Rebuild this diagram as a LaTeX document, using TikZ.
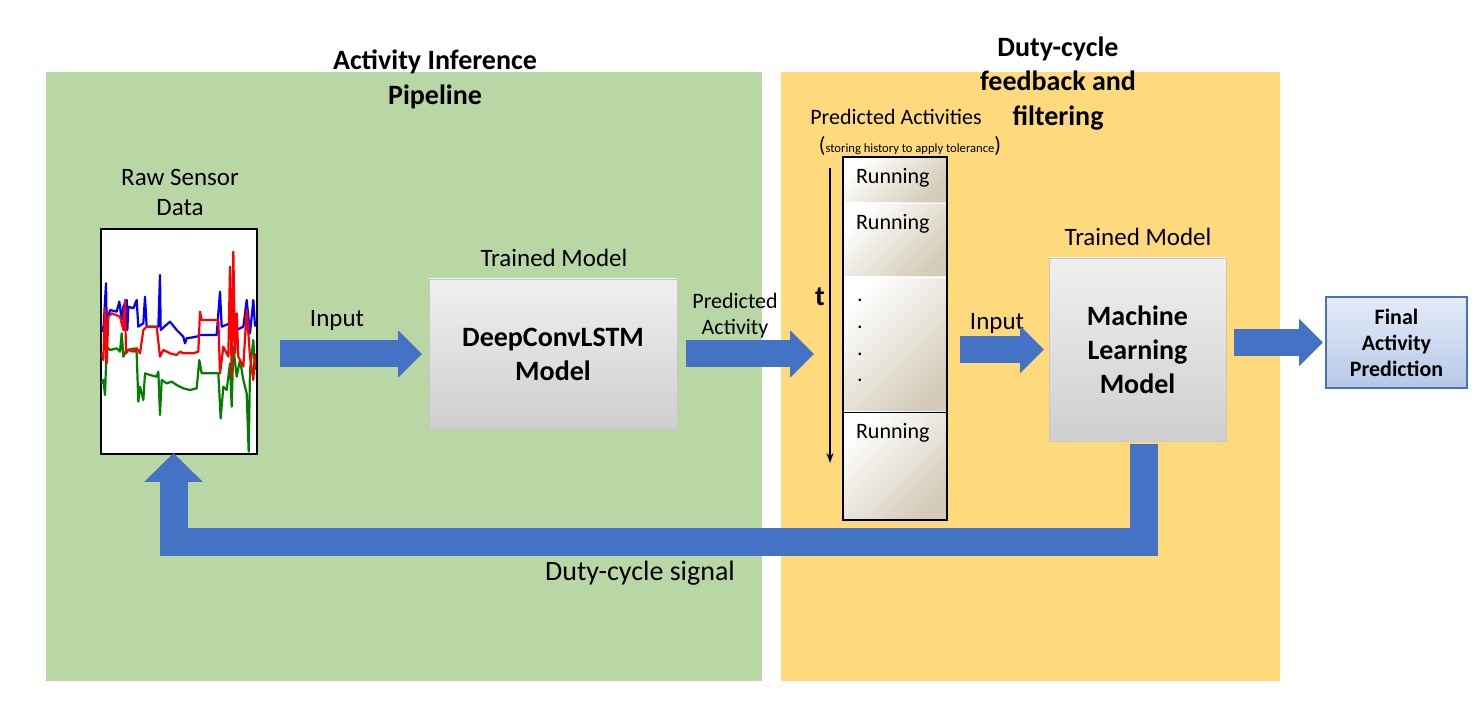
\documentclass[tikz,border=0pt]{standalone}
\usepackage{fontspec}
\setmainfont{Carlito}
\usetikzlibrary{arrows.meta,fit}
\definecolor{inferGreen}{RGB}{185,214,165}
\definecolor{dutyYellow}{RGB}{255,218,125}
\definecolor{arrowBlue}{RGB}{68,114,196}
\definecolor{metal}{RGB}{212,203,185}
\definecolor{finalTop}{RGB}{228,235,248}
\definecolor{finalBot}{RGB}{182,200,232}
\definecolor{plotGreen}{RGB}{0,128,0}
\newcommand{\fs}[2]{\fontsize{#1}{#2}\selectfont}

\begin{document}
\begin{tikzpicture}[x=0.5pt,y=-0.5pt,
	every node/.style={inner sep=0pt,outer sep=0pt},
	panel node/.style={rectangle,minimum height=304.5pt},
	model node/.style={rectangle,draw=gray!45,top color=gray!12,bottom color=gray!38,align=center,font=\bfseries\fs{14}{17}},
	cell node/.style={rectangle,draw=white,minimum width=52pt,top color=white,bottom color=metal,shading angle=45},
	label node/.style={align=center,font=\fs{12.5}{15}},
	small label/.style={align=center,font=\fs{11}{13}},
	flow arrow/.style={draw=arrowBlue,line width=13.5pt,-{Triangle[width=23pt,length=12pt]}},
	plot line/.style={line width=1.1pt,line join=round}]

	\path[use as bounding box,fill=white] (0,0) rectangle (1477,715);

	% panels
	\node[panel node,fill=inferGreen,minimum width=358pt] (inferPanel) at (404,376.5) {};
	\node[panel node,fill=dutyYellow,minimum width=249.5pt] (dutyPanel) at (1030.5,376.5) {};
	\node[font=\bfseries\fs{14}{17.5},align=center] (inferTitle) at (435,79.5) {Activity Inference\\Pipeline};
	\node[font=\bfseries\fs{14}{17.25},align=center] (dutyTitle) at (1058,83.5) {Duty-cycle\\feedback and\\filtering};

	% raw sensor data
	\node[label node] (rawTitle) at (180,192) {Raw Sensor\\Data};
	\node[draw=black,fill=white,line width=0.6pt,minimum width=78pt,minimum height=112.5pt] (sensor) at (179,341.5) {};
	\begin{scope}[shift={(90,220)},x=0.16667pt,y=-0.16667pt]
		\draw[plot line,blue] plot coordinates {(35,320) (40,335) (48,190) (50,310) (60,270) (80,275) (88,245) (95,300) (100,260) (110,240) (112,330) (115,260) (130,265) (140,240) (145,320) (160,310) (165,230) (170,320) (205,320) (210,165) (212,330) (240,305) (260,330) (280,350) (285,370) (290,355) (320,350) (330,345) (380,345) (390,215) (395,320) (420,310) (440,330) (460,320) (470,240) (480,340) (490,240) (495,320)};
		\draw[plot line,plotGreen] plot coordinates {(35,490) (40,480) (45,525) (50,380) (60,390) (80,385) (90,395) (95,340) (100,410) (110,390) (135,385) (140,400) (145,545) (150,500) (160,540) (165,460) (180,465) (200,470) (205,455) (210,585) (215,480) (230,490) (245,485) (260,495) (280,505) (300,510) (320,505) (328,420) (335,460) (385,460) (392,595) (400,500) (410,510) (420,430) (425,560) (430,380) (440,470) (450,420) (460,480) (470,520) (476,695) (480,450) (490,360) (495,450)};
		\draw[plot line,red] plot coordinates {(35,400) (40,420) (45,265) (50,430) (55,290) (65,280) (90,290) (100,330) (105,240) (108,400) (115,390) (130,395) (140,385) (150,400) (160,330) (170,320) (200,320) (210,410) (220,390) (240,400) (260,405) (270,395) (280,400) (310,400) (325,395) (330,275) (335,300) (385,300) (390,460) (400,380) (415,410) (420,140) (425,470) (430,95) (435,400) (440,280) (445,410) (460,440) (470,270) (480,410) (490,480) (495,400)};
	\end{scope}

	% first model
	\node[label node] (dclTitle) at (554,258) {Trained Model};
	\node[model node,minimum width=124pt,minimum height=75pt] (dcl) at (553,354) {DeepConvLSTM\\Model};
	\node[label node] (inputA) at (337,320) {Input};
	\node[small label] (predLabel) at (735,316) {Predicted\\Activity};

	% history of predictions
	\node[small label] (histTitle) at (896,117) {Predicted Activities};
	\node (histNote) at (910,146) {{\fs{11}{13}(}{\fs{6.3}{8}storing history to apply tolerance}{\fs{11}{13})}};
	\node[cell node,minimum height=23pt] (c1) at (895,180) {};
	\node[cell node,minimum height=37pt] (c2) at (895,240) {};
	\node[cell node,minimum height=67.5pt] (c3) at (895,344.5) {};
	\node[cell node,draw=black,minimum height=54pt] (c4) at (895,466) {};
	\node[draw=black,line width=0.6pt,fit=(c1)(c4),inner sep=0pt] (stack) {};
	\node[small label,anchor=west] (run1) at (856,178) {Running};
	\node[small label,anchor=west] (run2) at (856,224) {Running};
	\node[small label,anchor=west] (run4) at (856,433) {Running};
	\foreach \y [count=\i] in {300,327,354,380}
		\node[small label,anchor=base] (dot\i) at (860,\y+2) {.};
	\coordinate (tTop) at (830,168);
	\coordinate (tBot) at (830,463);
	\draw[-{Stealth[length=5pt,width=3.5pt]},line width=0.7pt] (tTop) -- (tBot);
	\node[font=\bfseries\fs{14}{17}] (tLabel) at (820,297) {t};

	% second model and result
	\node[label node] (inputB) at (997,323) {Input};
	\node[label node] (mlTitle) at (1138,237) {Trained Model};
	\node[model node,minimum width=88.5pt,minimum height=91.5pt] (ml) at (1137.5,349.5) {Machine\\Learning\\Model};
	\node[draw=arrowBlue,line width=0.7pt,top color=finalTop,bottom color=finalBot,minimum width=70.5pt,minimum height=45.5pt,align=center,font=\bfseries\fs{11}{13}] (final) at (1396.5,342.5) {Final\\Activity\\Prediction};

	\draw[flow arrow,shorten <=11.5pt,shorten >=3.5pt] (sensor.east |- dcl.west) -- (dcl.west);
	\draw[flow arrow,shorten <=4.5pt,shorten >=14.5pt] (dcl.east) -- (dcl.east -| stack.west);
	\draw[flow arrow,shorten <=6.5pt,shorten >=2.5pt] (stack.east |- ml.west) -- (ml.west);
	\draw[flow arrow,shorten <=4pt,shorten >=1.5pt] (ml.east |- final.west) -- (final.west);

	% duty-cycle feedback
	\coordinate (fbRight) at (1143.5,542);
	\coordinate (fbLeft) at (173.5,542);
	\draw[draw=arrowBlue,line width=14pt,line join=miter,-{Triangle[width=28.5pt,length=14.5pt]},shorten <=1.5pt,shorten >=-0.5pt]
		(ml.south -| fbRight) -- (fbRight) -- (fbLeft) -- (sensor.south -| fbLeft);
	\node[font=\fs{14}{17}] (dutyLabel) at (640,573) {Duty-cycle signal};

\end{tikzpicture}
\end{document}
